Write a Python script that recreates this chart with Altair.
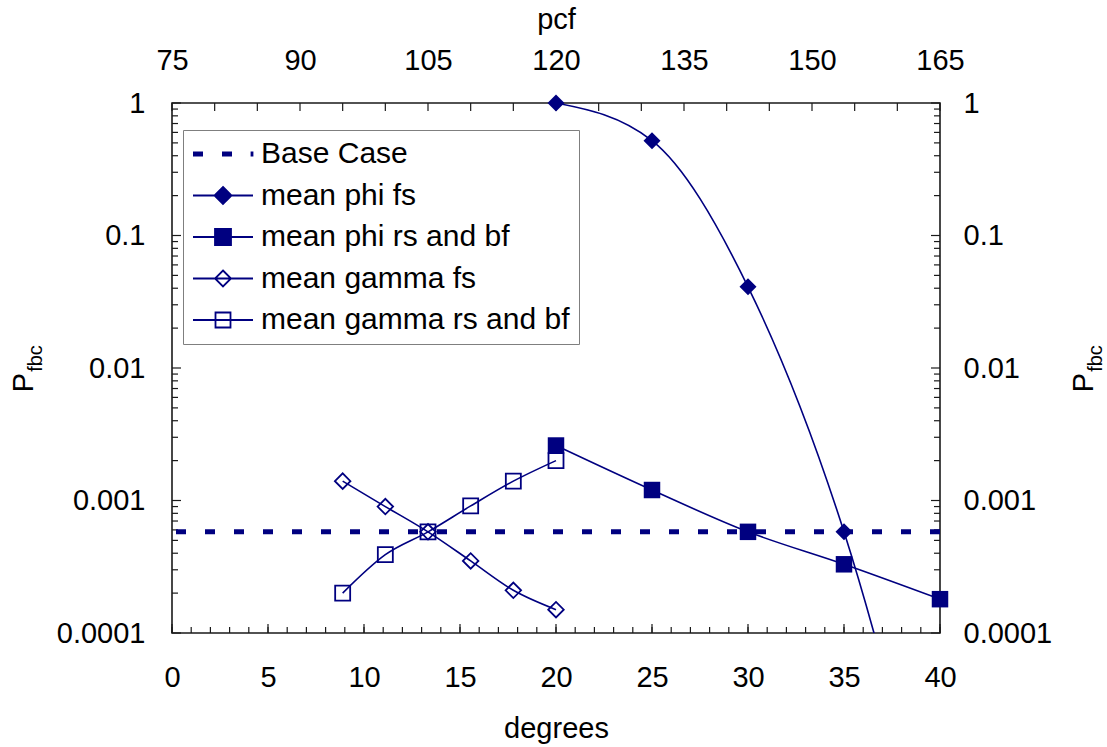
import altair as alt
import pandas as pd

NAVY = "#000080"
FRAME = "#1a1a1a"
FONT = "Liberation Sans"

# ---- data -------------------------------------------------------------
# friction-angle series (bottom axis, degrees)
phi_deg = [20, 25, 30, 35, 40]
phi_fs = [1.0, 0.52, 0.041, 0.00058, 1.2e-6]
phi_rs = [0.0026, 0.0012, 0.00058, 0.00033, 0.00018]

# unit-weight series (top axis, pcf)
gamma_pcf = [95, 100, 105, 110, 115, 120]
gamma_fs = [0.0014, 0.0009, 0.00058, 0.00035, 0.00021, 0.00015]
gamma_rs = [0.0002, 0.00039, 0.00058, 0.00091, 0.0014, 0.002]

# reference probability
base_case = [0.00058]

series_names = [
    "Base Case",
    "mean phi fs",
    "mean phi rs and bf",
    "mean gamma fs",
    "mean gamma rs and bf",
]

# ---- axis ticks -------------------------------------------------------
deg_labels = [0, 5, 10, 15, 20, 25, 30, 35, 40]
deg_minor = list(range(0, 41))
pcf_labels = [75, 90, 105, 120, 135, 150, 165]
pcf_ticks = list(range(75, 166, 5))
y_labels = [0.0001, 0.001, 0.01, 0.1, 1]
y_minor = [m * d for d in [0.0001, 0.001, 0.01, 0.1] for m in range(2, 10)]

W, H = 768, 530
Y_MIN = 0.0001

xdeg = alt.Scale(domain=[0, 40], nice=False, zero=False)
xpcf = alt.Scale(domain=[75, 165], nice=False, zero=False)
ysc = alt.Scale(type="log", domain=[Y_MIN, 1], nice=False)

label_style = dict(
    labelFont=FONT, labelFontSize=29, labelColor="black",
    labelFlush=False, labelOverlap=False, labelBound=False,
    ticks=False, domain=False, grid=False,
)
title_style = dict(titleFont=FONT, titleFontSize=29, titleFontWeight="normal",
                   titleColor="black")


def xd(field, axis=None):
    return alt.X(field, type="quantitative", scale=xdeg, axis=axis)


def xp(field, axis=None):
    return alt.X(field, type="quantitative", scale=xpcf, axis=axis)


def yv(field, axis=None):
    return alt.Y(field, type="quantitative", scale=ysc, axis=axis)


layers = []

# ---- tick marks drawn inside the frame --------------------------------
df_deg_major = pd.DataFrame({"d": deg_labels})
df_deg_minor = pd.DataFrame({"d": deg_minor})
layers.append(
    alt.Chart(df_deg_minor).mark_rule(color=FRAME, strokeWidth=1.2).encode(
        x=xd("d"), y=alt.value(H), y2=alt.value(H - 6))
)
layers.append(
    alt.Chart(df_deg_major).mark_rule(color=FRAME, strokeWidth=1.2).encode(
        x=xd("d", alt.Axis(orient="bottom", values=deg_labels, labelPadding=30,
                           title="degrees", titlePadding=22,
                           **label_style, **title_style)),
        y=alt.value(H), y2=alt.value(H - 9))
)

df_pcf = pd.DataFrame({"p": pcf_ticks})
layers.append(
    alt.Chart(df_pcf).mark_rule(color=FRAME, strokeWidth=1.2).encode(
        x=xp("p", alt.Axis(orient="top", values=pcf_labels, labelPadding=28,
                           title="pcf", titlePadding=12,
                           **label_style, **title_style)),
        y=alt.value(0), y2=alt.value(8))
)

df_y_major = pd.DataFrame({"v": y_labels})
df_y_minor = pd.DataFrame({"v": y_minor})
layers.append(
    alt.Chart(df_y_major).mark_rule(color=FRAME, strokeWidth=1.2).encode(
        y=yv("v", alt.Axis(orient="left", values=y_labels, format="~g",
                           labelPadding=27, title=None, **label_style)),
        x=alt.value(0), x2=alt.value(9))
)
layers.append(
    alt.Chart(df_y_major).mark_rule(color=FRAME, strokeWidth=1.2).encode(
        y=yv("v", alt.Axis(orient="right", values=y_labels, format="~g",
                           labelPadding=23, title=None, **label_style)),
        x=alt.value(W), x2=alt.value(W - 9))
)
layers.append(
    alt.Chart(df_y_minor).mark_rule(color=FRAME, strokeWidth=1.2).encode(
        y=yv("v"), x=alt.value(0), x2=alt.value(6))
)
layers.append(
    alt.Chart(df_y_minor).mark_rule(color=FRAME, strokeWidth=1.2).encode(
        y=yv("v"), x=alt.value(W), x2=alt.value(W - 6))
)

# ---- series -----------------------------------------------------------
layers.append(
    alt.Chart(pd.DataFrame({"v": base_case})).mark_rule(
        color=NAVY, strokeWidth=5, strokeDash=[10, 19]).encode(y=yv("v"))
)

df_phi_fs = pd.DataFrame({"d": phi_deg, "p": phi_fs})
df_phi_rs = pd.DataFrame({"d": phi_deg, "p": phi_rs})
df_g_fs = pd.DataFrame({"g": gamma_pcf, "p": gamma_fs})
df_g_rs = pd.DataFrame({"g": gamma_pcf, "p": gamma_rs})

line_kw = dict(color=NAVY, strokeWidth=1.6, interpolate="monotone", clip=True)
in_range = alt.datum.p >= Y_MIN

layers += [
    alt.Chart(df_g_fs).mark_line(**line_kw).encode(x=xp("g"), y=yv("p")),
    alt.Chart(df_g_rs).mark_line(**line_kw).encode(x=xp("g"), y=yv("p")),
    alt.Chart(df_phi_rs).mark_line(**line_kw).encode(x=xd("d"), y=yv("p")),
    alt.Chart(df_phi_fs).mark_line(**line_kw).encode(x=xd("d"), y=yv("p")),
    alt.Chart(df_g_fs).mark_point(
        shape="diamond", filled=False, size=240, color=NAVY, strokeWidth=1.8,
        opacity=1).encode(x=xp("g"), y=yv("p")),
    alt.Chart(df_g_rs).mark_point(
        shape="square", filled=False, size=225, color=NAVY, strokeWidth=1.8,
        opacity=1).encode(x=xp("g"), y=yv("p")),
    alt.Chart(df_phi_rs).mark_point(
        shape="square", filled=True, size=272, color=NAVY,
        opacity=1).encode(x=xd("d"), y=yv("p")),
    alt.Chart(df_phi_fs).transform_filter(in_range).mark_point(
        shape="diamond", filled=True, size=289, color=NAVY,
        opacity=1).encode(x=xd("d"), y=yv("p")),
]

# ---- legend (symbols are line + marker paths) -------------------------
legend_paths = [
    "M-2.91,-0.16H-2.09V0.16H-2.91Z M-0.01,-0.16H0.81V0.16H-0.01Z M2.85,-0.16H2.95V0.16H2.85Z",
    "M-3,0H3 M0,-0.85L0.85,0L0,0.85L-0.85,0Z",
    "M-3,0H3 M-0.8,-0.8H0.8V0.8H-0.8Z",
    "M-3,0H3 M0,-0.8L0.8,0L0,0.8L-0.8,0Z",
    "M-3,0H3 M-0.75,-0.75H0.75V0.75H-0.75Z",
]
legend_fills = [NAVY, NAVY, NAVY, "white", "transparent"]
legend_strokes = [NAVY] * 5

legend = alt.Legend(
    orient="none", legendX=11, legendY=27, title=None, padding=9,
    rowPadding=11.5, symbolSize=400, symbolOffset=16, labelOffset=23,
    labelFont=FONT, labelFontSize=30, labelColor="black", labelLimit=600,
    fillColor="white", strokeColor="#7f7f7f", symbolStrokeColor=NAVY,
    symbolStrokeWidth=1.8, symbolOpacity=1,
)
df_leg = pd.DataFrame({"series": series_names, "d": [-10] * 5, "p": [0.5] * 5})
layers.append(
    alt.Chart(df_leg).mark_point(opacity=1, strokeWidth=1.8, clip=True).encode(
        x=xd("d"), y=yv("p"),
        shape=alt.Shape("series:N", scale=alt.Scale(domain=series_names, range=legend_paths),
                        legend=legend),
        fill=alt.Fill("series:N", scale=alt.Scale(domain=series_names, range=legend_fills),
                      legend=legend),
        stroke=alt.Stroke("series:N", scale=alt.Scale(domain=series_names, range=legend_strokes),
                          legend=legend),
    )
)

# ---- y titles: P with subscript fbc on both sides ---------------------
one = pd.DataFrame({"k": [0]})
for bx, sx in [(-139, -130), (921, 930)]:
    layers.append(
        alt.Chart(one).mark_text(text="P", angle=270, font=FONT, fontSize=29,
                                 color="black", align="center",
                                 baseline="alphabetic").encode(
            x=alt.value(bx), y=alt.value(279.5))
    )
    layers.append(
        alt.Chart(one).mark_text(text="fbc", angle=270, font=FONT, fontSize=20,
                                 color="black", align="center",
                                 baseline="alphabetic").encode(
            x=alt.value(sx), y=alt.value(255.5))
    )

chart = (
    alt.layer(*layers)
    .resolve_scale(x="independent")
    .resolve_axis(x="independent", y="independent")
    .properties(
        width=W, height=H,
        padding={"left": 172, "top": 103, "right": 167, "bottom": 114},
        autosize=alt.AutoSizeParams(type="none"),
        background="white",
    )
    .configure_view(stroke=FRAME, strokeWidth=1.6)
)

chart.save("out.html", embed_options={"renderer": "svg", "actions": False})
